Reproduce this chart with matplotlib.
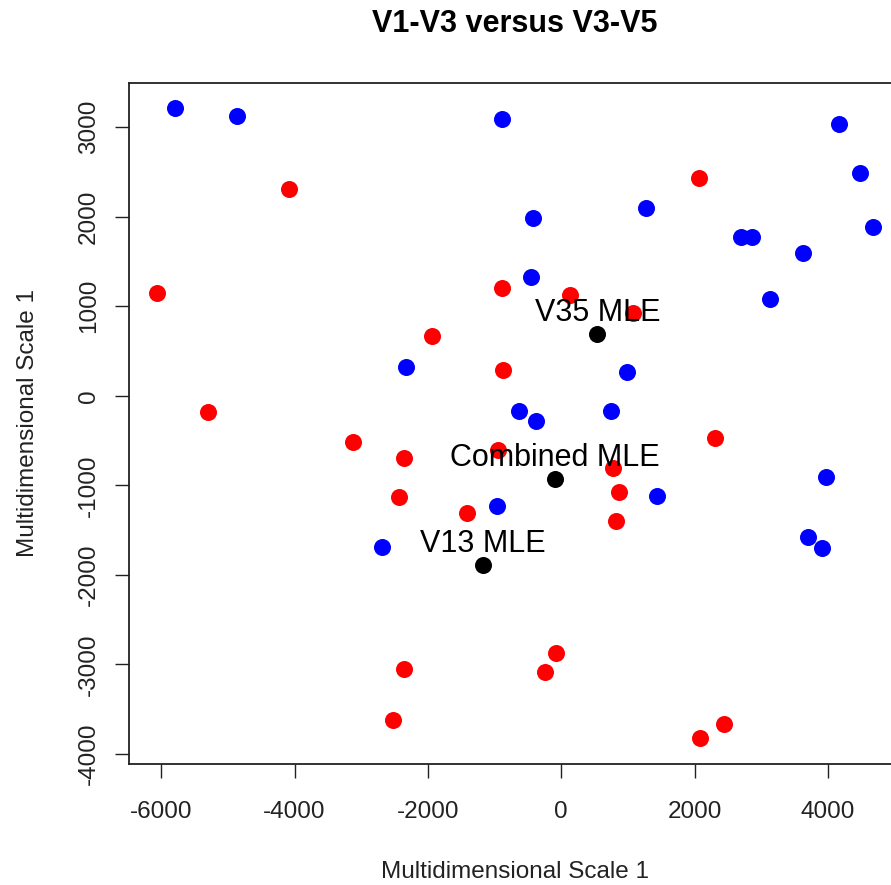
import matplotlib
matplotlib.use('Agg')
import numpy as np
from matplotlib import pyplot as plt

# group 1 (blue)
blue_x = [-5794, -4860, -890, -423, -454, 1270, 4170, 4480, 4680, 2691, 2856, 3625,
          3130, -2334, 990, -634, -380, 750, 1431, -969, -2694, 3970, 3700, 3910]
blue_y = [3209, 3123, 3088, 1984, 1320, 2099, 3030, 2490, 1887, 1768, 1768, 1590,
          1076, 318, 268, -171, -279, -174, -1120, -1228, -1690, -908, -1577, -1700]

# group 2 (red)
red_x = [-4080, -6060, -1935, 2070, 1080, -894, 130, -869, -945, -2359, 780, 870,
         -2430, -1410, 820, -3120, -5300, -2359, -2529, -80, -245, 2080, 2440, 2306]
red_y = [2308, 1150, 670, 2434, 920, 1199, 1124, 287, -606, -699, -811, -1079,
         -1134, -1313, -1399, -517, -183, -3051, -3621, -2873, -3085, -3823, -3667, -472]

# MLE points
mle_x = [540, -94, -1179]
mle_y = [685, -934, -1890]
mle_labels = ['V35 MLE', 'Combined MLE', 'V13 MLE']

plt.rcParams['font.family'] = ['Liberation Sans', 'DejaVu Sans']
plt.rcParams['axes.unicode_minus'] = False

W, H = 891, 885
fig = plt.figure(figsize=(W / 100, H / 100), dpi=100)
left, right, top, bottom = 129, 901, 83, 764
ax = fig.add_axes([left / W, 1 - bottom / H, (right - left) / W, (bottom - top) / H])

ax.scatter(blue_x, blue_y, s=150, color='#0000ff', linewidths=0, zorder=3)
ax.scatter(red_x, red_y, s=150, color='#ff0000', linewidths=0, zorder=3)
ax.scatter(mle_x, mle_y, s=150, color='black', linewidths=0, zorder=4)
for x, y, lab in zip(mle_x, mle_y, mle_labels):
    ax.annotate(lab, (x, y), xytext=(0, 9.5), textcoords='offset points',
                ha='center', va='baseline', fontsize=22, zorder=5)

ax.set_xlim(-6484, 5095)
ax.set_ylim(-4112, 3491)
ax.set_xticks(np.arange(-6000, 4001, 2000))
ax.set_yticks(np.arange(-4000, 3001, 1000))
ax.tick_params(axis='both', length=10, width=1, color='#222222', labelcolor='#222222',
               labelsize=17.5, direction='out')
ax.tick_params(axis='x', pad=17)
ax.tick_params(axis='y', pad=11)
for lbl in ax.get_yticklabels():
    lbl.set_rotation(90)
    lbl.set_va('center')
for sp in ax.spines.values():
    sp.set_linewidth(1.3)
    sp.set_color('#222222')

fig.text(515 / W, 1 - 24 / H, 'V1-V3 versus V3-V5', ha='center', va='center',
         fontsize=22, fontweight='bold')
fig.text(515 / W, 1 - 872 / H, 'Multidimensional Scale 1', ha='center', va='center',
         fontsize=17.5, color='#222222')
fig.text(28 / W, 1 - 423 / H, 'Multidimensional Scale 1', ha='center', va='center',
         fontsize=17.5, rotation=90, color='#222222')

fig.savefig('out.png', dpi=100)
